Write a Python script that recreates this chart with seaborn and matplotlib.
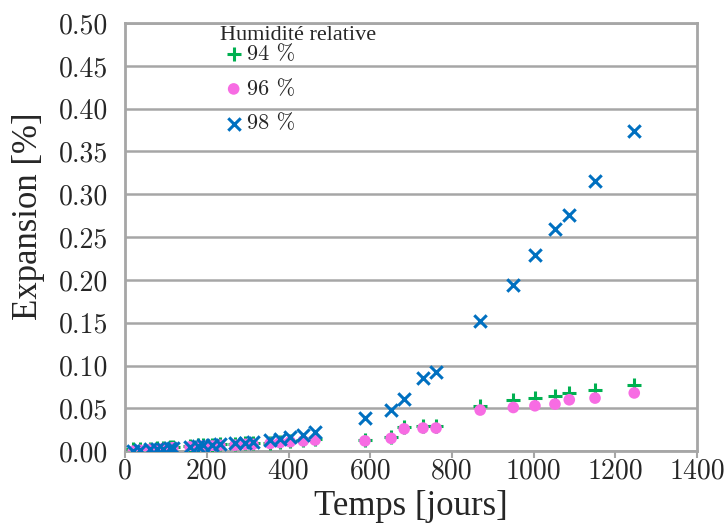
import matplotlib
matplotlib.use("Agg")
import matplotlib.pyplot as plt
import pandas as pd
import seaborn as sns

# Data
days_early = [20, 37, 61, 78, 93, 110, 117, 159, 179, 191, 213, 232, 269, 294, 313, 355, 379, 404, 436, 465]
days_late = [587, 651, 683, 729, 761, 869, 950, 1003, 1052, 1087, 1150, 1246]

rh94 = [0.002, 0.003, 0.003, 0.004, 0.004, 0.005, 0.005, 0.006, 0.007, 0.007, 0.007, 0.008, 0.008, 0.009, 0.009, 0.010, 0.011, 0.012, 0.013, 0.014,
        0.013, 0.017, 0.028, 0.029, 0.029, 0.053, 0.060, 0.062, 0.064, 0.068, 0.071, 0.077]
rh96 = [0.000, 0.001, 0.002, 0.002, 0.003, 0.003, 0.004, 0.005, 0.005, 0.006, 0.006, 0.007, 0.007, 0.008, 0.008, 0.009, 0.010, 0.011, 0.012, 0.013,
        0.012, 0.015, 0.026, 0.027, 0.027, 0.048, 0.051, 0.053, 0.055, 0.060, 0.062, 0.068]
rh98 = [0.000, 0.001, 0.002, 0.002, 0.003, 0.004, 0.004, 0.005, 0.006, 0.007, 0.007, 0.008, 0.009, 0.010, 0.011, 0.013, 0.014, 0.016, 0.019, 0.022,
        0.039, 0.048, 0.061, 0.085, 0.092, 0.152, 0.194, 0.229, 0.259, 0.276, 0.315, 0.374]

xticks = list(range(0, 1401, 200))
yticks = [i * 0.05 for i in range(11)]

days = days_early + days_late
df = pd.DataFrame({"Temps": days, "94 %": rh94, "96 %": rh96, "98 %": rh98})

sns.set_theme(style="white")
plt.rcParams["font.family"] = ["Liberation Serif", "DejaVu Serif"]
cm = ["cmr10", "DejaVu Serif"]

fig, ax = plt.subplots(figsize=(7.27, 5.24), dpi=100)
fig.subplots_adjust(left=0.172, right=0.959, bottom=0.139, top=0.956)

sns.scatterplot(data=df, x="Temps", y="94 %", marker="+", s=110, color="#00b050",
                linewidth=2.2, label="94 %", ax=ax, zorder=3)
sns.scatterplot(data=df, x="Temps", y="96 %", marker="o", s=70, color="#f76ce3",
                edgecolor="none", label="96 %", ax=ax, zorder=4)
sns.scatterplot(data=df, x="Temps", y="98 %", marker="x", s=80, color="#0070c0",
                linewidth=2.2, label="98 %", ax=ax, zorder=5)

ax.set_xlim(0, 1400)
ax.set_ylim(0, 0.5)
ax.set_xticks(xticks)
ax.set_xticklabels([str(t) for t in xticks], fontfamily=cm, fontsize=20)
ax.set_yticks(yticks)
ax.set_yticklabels([f"{t:.2f}" for t in yticks], fontfamily=cm, fontsize=20)
ax.yaxis.grid(True, color="#a6a6a6", linewidth=1.8)
ax.xaxis.grid(False)
ax.set_axisbelow(True)

for side in ["left", "right", "top", "bottom"]:
    ax.spines[side].set_color("#a6a6a6")
    ax.spines[side].set_linewidth(2)

ax.tick_params(axis="x", direction="out", length=5, width=1.5, color="#a6a6a6",
               pad=0, bottom=True)
ax.tick_params(axis="y", length=0, pad=12)

ax.set_xlabel("Temps [jours]", fontsize=25, labelpad=4)
ax.set_ylabel("Expansion [%]", fontsize=25)
ax.yaxis.set_label_coords(-0.14, 0.55)

leg = ax.legend(title="Humidité relative", loc="upper left", bbox_to_anchor=(0.151, 1.015),
                frameon=False, handletextpad=0.0, prop={"family": cm, "size": 16},
                labelspacing=0.68, borderaxespad=0, handlelength=1.2)
leg.get_title().set_fontsize(16)
leg._legend_box.align = "left"
leg._legend_box.sep = 0

fig.savefig("out.png", dpi=100)
